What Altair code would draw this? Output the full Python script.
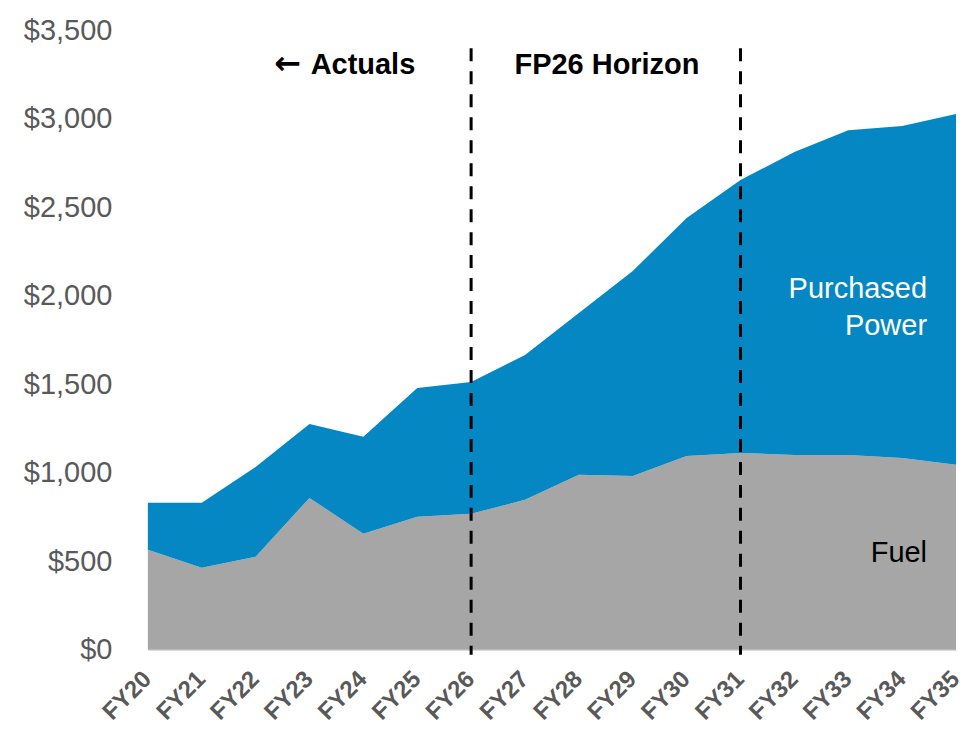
import altair as alt
import pandas as pd

years = ["FY20", "FY21", "FY22", "FY23", "FY24", "FY25", "FY26", "FY27",
         "FY28", "FY29", "FY30", "FY31", "FY32", "FY33", "FY34", "FY35"]
fuel = [565, 463, 525, 858, 655, 751, 768, 847, 988, 982, 1095, 1112, 1101, 1101, 1084, 1045]
total = [830, 830, 1033, 1276, 1203, 1479, 1513, 1666, 1903, 2140, 2439, 2654, 2812, 2936, 2959, 3027]
purchased = [t - f for t, f in zip(total, fuel)]

series_names = ["Fuel", "Purchased Power"]
series_colors = ["#A6A6A6", "#0587C3"]
marker_years = ["FY26", "FY31"]

rows = []
for i, y in enumerate(years):
    rows.append({"year": y, "series": "Fuel", "value": fuel[i], "ord": 0})
    rows.append({"year": y, "series": "Purchased Power", "value": purchased[i], "ord": 1})
df = pd.DataFrame(rows)

FONT = "Liberation Sans"
xscale = alt.Scale(type="point", padding=0, domain=years)

x_enc = alt.X("year:O", sort=years, scale=xscale,
              axis=alt.Axis(title=None, labelAngle=-45, labelFont=FONT, labelFontSize=24,
                            labelFontWeight="bold", labelColor="#595959", ticks=False,
                            domain=True, domainColor="#D9D9D9", domainWidth=1.5,
                            labelPadding=17, labelOffset=-9, grid=False))

area = alt.Chart(df).mark_area(interpolate="linear").encode(
    x=x_enc,
    y=alt.Y("value:Q", stack="zero",
            scale=alt.Scale(domain=[0, 3500], nice=False),
            axis=alt.Axis(title=None, values=list(range(0, 3501, 500)), format="$,.0f",
                          labelFont=FONT, labelFontSize=29, labelColor="#595959",
                          ticks=False, domain=False, grid=False, labelPadding=36)),
    color=alt.Color("series:N", scale=alt.Scale(domain=series_names, range=series_colors),
                    legend=None),
    order=alt.Order("ord:Q"),
)

rules = alt.Chart(pd.DataFrame({"year": marker_years})).mark_rule(
    color="black", strokeWidth=3, strokeDash=[13, 10]
).encode(
    x=alt.X("year:O", sort=years, scale=xscale),
    y=alt.value(18),
    y2=alt.value(625),
)

arrow = alt.Chart(pd.DataFrame({"label": ["\u2190"], "px": [140], "py": [34]})).mark_text(
    font="DejaVu Sans", fontSize=32, fontWeight="bold", color="black", align="center", baseline="middle"
).encode(x=alt.X("px:Q", scale=None), y=alt.Y("py:Q", scale=None), text="label:N")

headers = pd.DataFrame({
    "label": ["Actuals", "FP26 Horizon"],
    "px": [163, 367],
    "py": [35, 35],
})
head_text = alt.Chart(headers).mark_text(
    font=FONT, fontSize=29, fontWeight="bold", color="black", align="left", baseline="middle"
).encode(x=alt.X("px:Q", scale=None), y=alt.Y("py:Q", scale=None), text="label:N")

pp = pd.DataFrame({"label": ["Purchased", "Power"], "px": [780, 780], "py": [259, 296]})
pp_text = alt.Chart(pp).mark_text(
    font=FONT, fontSize=29, color="white", align="right", baseline="middle"
).encode(x=alt.X("px:Q", scale=None), y=alt.Y("py:Q", scale=None), text="label:N")

fl = pd.DataFrame({"label": ["Fuel"], "px": [780], "py": [523]})
fl_text = alt.Chart(fl).mark_text(
    font=FONT, fontSize=29, color="black", align="right", baseline="middle"
).encode(x=alt.X("px:Q", scale=None), y=alt.Y("py:Q", scale=None), text="label:N")

chart = alt.layer(area, rules, arrow, head_text, pp_text, fl_text).properties(
    width=809, height=620,
    autosize=alt.AutoSizeParams(type="none"),
    padding={"left": 140, "top": 22, "right": 8, "bottom": 82},
    background="white",
).configure_view(stroke=None)

chart.save("out.html", embed_options={"renderer": "svg", "actions": False})
